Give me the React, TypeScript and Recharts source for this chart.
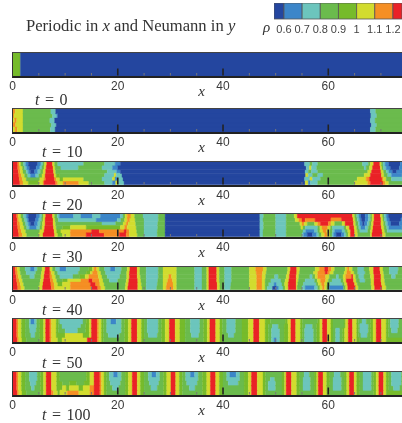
import { BarChart, Bar, XAxis, YAxis, Cell } from 'recharts';

// level index -> density band (below 0.6 up to above 1.2)
const levelColors = ['#24469f', '#3c86c9', '#6cc5bd', '#6bbb4d', '#76bb2b', '#d2dc2f', '#f58f24', '#ea2227'];
const rhoTicks = [0.6, 0.7, 0.8, 0.9, 1, 1.1, 1.2];
const rhoBands = [0.6, 0.1, 0.1, 0.1, 0.1, 0.1, 0.1, 0.1];
const xTicks = [0, 5, 10, 15, 20, 25, 30, 35, 40, 45, 50, 55, 60, 65, 70, 75];
const xLabels = [0, 20, 40, 60];

// every row, top to bottom: level, x where it ends, level, x where it ends...
const t0Rows = [[4, 1.5, 0, 76]];
const t10Rows = [
  [6, .5, 5, 2, 3, 7.3, 2, 8.2, 0, 68, 2, 69, 3, 76],
  [6, .3, 5, 2, 3, 7.6, 2, 8.4, 1, 8.6, 0, 68.1, 2, 69.2, 3, 76],
  [5, .4, 6, .8, 5, 2, 3, 7.1, 2, 8, 0, 68, 2, 68.9, 3, 76],
  [6, .6, 5, 2, 3, 7.4, 2, 8.3, 0, 68.2, 2, 69.2, 3, 76],
  [5, .5, 6, .9, 5, 2, 3, 7.2, 2, 8.1, 0, 68, 2, 69, 3, 76],
];
const t20Rows = [
  [7, 1, 6, 1.3, 5, 1.6, 3, 2.1, 2, 2.5, 1, 3, 0, 4.8, 1, 5.4, 2, 5.8, 3, 6.1, 5, 6.5, 7, 7.6, 5, 8, 3, 8.6, 2, 13.5, 3, 17.5, 2, 19.5, 1, 20.5, 0, 55.5, 2, 56.5, 3, 57, 2, 58, 3, 66.5, 2, 67.6, 3, 68, 5, 68.6, 7, 69.8, 5, 70.1, 3, 70.4, 2, 70.8, 1, 71.5, 0, 73.7, 1, 74.8, 2, 75.4, 3, 76],
  [7, 1, 6, 1.4, 5, 1.9, 3, 2.3, 2, 2.7, 1, 3.2, 0, 4.5, 1, 5.2, 2, 5.6, 3, 6, 5, 6.4, 7, 7.7, 5, 8.1, 3, 9.2, 2, 12.5, 3, 17, 2, 19, 1, 20, 0, 55.8, 2, 56.4, 5, 56.8, 2, 57.8, 3, 66.8, 2, 67.2, 3, 67.8, 5, 68.4, 7, 69.9, 5, 70.2, 3, 70.5, 2, 71, 1, 71.8, 0, 73.5, 1, 74.6, 2, 75.2, 3, 76],
  [7, 1.1, 6, 1.5, 5, 2, 3, 2.6, 2, 3, 1, 3.4, 0, 4.2, 1, 4.8, 2, 5.3, 3, 5.8, 5, 6.3, 7, 7.8, 5, 8.2, 3, 18, 2, 19.8, 1, 20.5, 0, 55.6, 2, 56.2, 3, 56.8, 2, 58, 3, 67.5, 5, 68.2, 7, 70, 5, 70.5, 3, 71, 2, 71.5, 1, 72.2, 0, 73, 1, 74.4, 2, 75, 3, 76],
  [7, 1.2, 6, 1.7, 5, 2.3, 3, 2.9, 2, 3.4, 1, 4.4, 2, 5, 3, 5.6, 5, 6.2, 7, 7.9, 5, 8.3, 4, 9, 3, 17.5, 2, 19.3, 5, 19.7, 2, 20.8, 0, 55.7, 5, 56.2, 2, 57, 3, 58, 2, 59, 3, 66.8, 5, 68, 7, 70.1, 5, 70.6, 3, 71.3, 2, 72, 1, 74, 2, 74.8, 3, 76],
  [7, 1.3, 6, 1.9, 5, 2.6, 3, 5.2, 5, 6, 6, 6.3, 7, 8, 6, 8.3, 5, 9, 4, 9.6, 5, 13.5, 3, 17, 2, 19, 5, 19.5, 1, 20, 2, 21, 0, 55.5, 2, 56.5, 5, 57, 2, 58.5, 3, 65.5, 5, 67.2, 6, 67.8, 7, 70.2, 6, 70.5, 5, 71, 3, 72, 2, 74.5, 3, 76],
  [7, 1.4, 6, 2, 5, 3, 4, 5, 5, 5.8, 6, 6, 7, 8.2, 6, 8.6, 5, 9.6, 6, 12.6, 5, 14.5, 3, 17.5, 2, 19, 1, 19.6, 5, 20, 2, 21.2, 0, 55.6, 5, 56.2, 1, 56.6, 2, 58, 3, 65, 5, 67.5, 6, 68, 7, 70.4, 6, 70.8, 5, 71.5, 3, 76],
];
const t30Rows = [
  [7, .8, 6, 1.1, 5, 1.6, 3, 2.1, 2, 2.6, 1, 3, 0, 4.6, 1, 5.2, 2, 5.6, 3, 5.9, 5, 6.3, 7, 7.6, 5, 8, 3, 8.5, 2, 8.9, 1, 11.6, 2, 13, 1, 15.2, 2, 16.7, 1, 20.5, 2, 21, 3, 21.4, 5, 21.8, 6, 22.5, 5, 23.2, 3, 24.8, 2, 27.7, 3, 29, 0, 47, 2, 47.7, 3, 50, 2, 52, 3, 53.5, 5, 54.1, 7, 64.6, 5, 65, 3, 65.4, 2, 65.8, 1, 66.2, 0, 67, 1, 67.6, 2, 68, 3, 68.3, 5, 68.7, 7, 69.9, 5, 70.3, 3, 70.6, 2, 71, 1, 71.4, 0, 74, 1, 75, 2, 75.5, 3, 76],
  [7, .9, 6, 1.2, 5, 1.8, 3, 2.3, 2, 2.8, 1, 3.1, 0, 4.4, 1, 5, 2, 5.5, 3, 5.8, 5, 6.2, 7, 7.7, 5, 8.1, 3, 8.7, 2, 15.9, 1, 19.9, 2, 20.6, 3, 21.3, 5, 21.8, 6, 22.3, 5, 23.3, 3, 25, 2, 27.7, 3, 29, 0, 47, 2, 47.6, 3, 50, 2, 52, 3, 53.7, 5, 54.4, 6, 55, 7, 55.6, 6, 57.5, 7, 60.5, 6, 62.5, 7, 64.7, 5, 65.1, 3, 65.5, 2, 65.9, 1, 66.3, 0, 67, 1, 67.6, 2, 68, 3, 68.3, 5, 68.7, 7, 70, 5, 70.4, 3, 70.7, 2, 71.1, 1, 71.6, 0, 73.8, 1, 74.8, 2, 75.4, 3, 76],
  [7, .9, 6, 1.4, 5, 2, 3, 2.5, 2, 3, 1, 3.4, 0, 4.2, 1, 4.8, 2, 5.3, 3, 5.7, 5, 6.2, 7, 7.7, 5, 8.2, 3, 17, 2, 19.6, 3, 21, 5, 21.6, 6, 22, 5, 23.4, 3, 25, 2, 27.6, 3, 29, 0, 47, 2, 47.7, 3, 50, 2, 52, 3, 54.6, 5, 55, 6, 55.4, 5, 56, 3, 57.4, 5, 58, 6, 58.5, 7, 60, 6, 60.5, 5, 61.2, 3, 62.6, 5, 63.2, 7, 64.8, 5, 65.2, 3, 65.7, 2, 66, 1, 66.5, 0, 66.9, 1, 67.4, 2, 67.8, 3, 68.2, 5, 68.6, 7, 70, 5, 70.5, 3, 70.9, 2, 71.3, 1, 71.9, 0, 73.5, 1, 74.5, 2, 75.2, 3, 76],
  [7, 1, 6, 1.5, 5, 2.2, 3, 2.7, 2, 3.2, 1, 4.6, 2, 5.2, 3, 5.6, 5, 6.1, 7, 7.8, 5, 8.3, 3, 9.5, 4, 11, 5, 14, 4, 20.5, 5, 21.3, 6, 21.8, 5, 23.5, 3, 25, 2, 27.6, 3, 29, 0, 47, 2, 47.7, 3, 50, 2, 52, 3, 54.8, 5, 55.2, 3, 55.6, 2, 58, 3, 58.4, 5, 58.8, 6, 59.9, 5, 60.4, 3, 60.8, 2, 63, 3, 63.4, 5, 64, 7, 64.9, 5, 65.4, 3, 65.8, 2, 66.2, 1, 67, 2, 67.6, 3, 68.1, 5, 68.5, 7, 70.1, 5, 70.6, 3, 71.1, 2, 71.5, 1, 74, 2, 74.9, 3, 76],
  [7, 1.1, 6, 1.7, 5, 2.5, 3, 5.2, 5, 6, 7, 7.9, 5, 8.4, 4, 9.2, 5, 11, 6, 15, 7, 16.5, 6, 21.2, 7, 21.7, 6, 22.2, 5, 23.6, 3, 25, 2, 27.5, 3, 29, 0, 47, 2, 47.6, 3, 50, 2, 52, 3, 55.2, 2, 55.7, 1, 57.4, 2, 58, 3, 58.4, 5, 59, 6, 59.7, 5, 60.3, 3, 60.8, 2, 61.2, 1, 62.6, 2, 63.2, 3, 63.7, 5, 64.2, 7, 65, 5, 65.5, 3, 66, 2, 67.5, 3, 68, 5, 68.4, 7, 70.2, 5, 70.7, 3, 71.2, 2, 74.3, 3, 76],
  [7, 1.2, 6, 1.9, 5, 2.7, 3, 5, 5, 5.8, 7, 8, 5, 8.6, 4, 9.5, 5, 11, 6, 14, 7, 17.4, 6, 20.3, 7, 21.6, 6, 22.2, 5, 23.7, 3, 25, 2, 27.5, 3, 29, 0, 47, 2, 47.6, 3, 50, 2, 52, 3, 55, 2, 55.3, 1, 56, 0, 57, 1, 57.8, 2, 58.2, 3, 58.7, 5, 59.3, 6, 59.8, 5, 60.3, 3, 60.7, 2, 61, 1, 61.5, 0, 62.5, 1, 63, 2, 63.4, 3, 63.8, 5, 64.2, 7, 65, 5, 65.6, 3, 68, 5, 68.3, 7, 70.3, 5, 70.9, 3, 76],
];
const t40Rows = [
  [7, .5, 6, .9, 5, 1.4, 3, 2.4, 2, 3.4, 1, 4.2, 2, 4.7, 3, 5.6, 5, 6.2, 7, 7.1, 5, 7.6, 3, 8.2, 2, 9, 1, 10.2, 2, 12.8, 3, 14.5, 4, 15.2, 5, 15.5, 6, 16, 5, 16.5, 3, 17.5, 2, 18.6, 1, 19.5, 2, 20.7, 3, 21.8, 5, 22.3, 7, 23.7, 5, 24.2, 3, 25.4, 2, 27.7, 3, 28.6, 5, 31.2, 3, 34.6, 2, 36, 3, 36.9, 5, 37.3, 7, 38.8, 5, 39.3, 3, 40.3, 2, 41.6, 3, 45, 5, 46.2, 6, 47.6, 5, 48.3, 3, 52.3, 5, 52.8, 7, 54, 5, 54.6, 3, 57.5, 5, 58.3, 6, 59.3, 7, 60, 6, 60.6, 5, 61.2, 3, 63.2, 5, 63.6, 6, 64, 5, 64.6, 3, 65.6, 2, 66.8, 3, 67.8, 5, 68.6, 7, 69.8, 5, 70.4, 3, 71.6, 2, 73.3, 3, 76],
  [7, .6, 6, 1, 5, 1.5, 3, 2.6, 2, 4.4, 3, 5.5, 5, 6.1, 7, 7.1, 6, 7.4, 5, 8, 3, 8.6, 2, 12.5, 3, 14, 4, 14.8, 5, 15.2, 6, 16.2, 5, 16.8, 3, 17.7, 2, 20.6, 3, 21.7, 5, 22.2, 7, 23.7, 5, 24.2, 3, 25.4, 2, 27.7, 3, 28.6, 5, 31.2, 3, 34.6, 2, 36, 3, 36.9, 5, 37.3, 7, 38.8, 5, 39.3, 3, 40.3, 2, 41.6, 3, 45, 5, 46.3, 6, 47.5, 5, 48.2, 3, 52.2, 5, 52.7, 7, 54, 5, 54.5, 3, 57.2, 5, 58, 6, 59.4, 7, 59.9, 6, 60.3, 5, 61, 3, 63, 5, 63.5, 6, 64.3, 5, 64.9, 3, 65.6, 2, 67, 3, 67.9, 5, 68.6, 7, 69.9, 5, 70.5, 3, 71.6, 2, 73.2, 3, 76],
  [7, .7, 6, 1.1, 5, 1.7, 3, 3.3, 2, 4.2, 3, 5.4, 5, 6, 7, 7.1, 6, 7.5, 5, 8.2, 3, 9, 2, 11.5, 3, 12.8, 4, 13.8, 5, 14.5, 6, 16.3, 5, 17, 3, 18, 2, 20.4, 3, 21.7, 5, 22.2, 7, 23.7, 5, 24.3, 3, 25.4, 2, 27.7, 3, 28.6, 5, 29.7, 6, 30.2, 5, 31.2, 3, 34.6, 2, 36, 3, 36.9, 5, 37.3, 7, 38.8, 5, 39.3, 3, 40.3, 2, 41.6, 3, 45, 5, 46.4, 6, 47.4, 5, 48.1, 3, 49.8, 2, 50.5, 3, 52, 5, 52.6, 7, 53.9, 5, 54.4, 3, 56.5, 2, 57, 3, 57.5, 5, 58, 6, 59.5, 5, 60.2, 3, 61.5, 2, 62, 3, 62.8, 5, 63.3, 6, 64.4, 7, 64.7, 5, 65.2, 3, 65.8, 2, 66.8, 3, 68, 5, 68.7, 7, 70, 5, 70.6, 3, 72, 2, 72.8, 3, 76],
  [7, .8, 6, 1.3, 5, 1.9, 3, 5.3, 5, 5.9, 7, 7.2, 6, 7.7, 5, 8.4, 3, 9.5, 4, 10.5, 5, 13, 6, 14.5, 7, 15.2, 6, 16.5, 5, 17.2, 3, 18.4, 2, 20, 3, 21.6, 5, 22.1, 7, 23.8, 5, 24.4, 3, 25.4, 2, 27.6, 3, 28.6, 5, 29.5, 6, 30.4, 5, 31.2, 3, 34.6, 2, 36, 3, 36.9, 5, 37.3, 7, 38.8, 5, 39.3, 3, 40.3, 2, 41.6, 3, 45, 5, 46.4, 6, 47.4, 5, 48, 3, 49.1, 2, 51, 3, 51.8, 5, 52.5, 7, 53.9, 5, 54.3, 3, 55.6, 2, 57.4, 3, 57.9, 5, 58.5, 6, 59.5, 5, 60, 3, 60.7, 2, 62.4, 3, 62.9, 5, 63.4, 7, 64.8, 5, 65.3, 3, 66, 2, 67, 3, 68.1, 5, 68.7, 7, 70, 5, 70.7, 3, 76],
  [7, .9, 6, 1.5, 5, 2.1, 3, 5.2, 5, 5.8, 7, 7.3, 6, 7.9, 5, 8.6, 4, 9.5, 5, 11, 6, 14.8, 7, 15.8, 6, 16.6, 5, 17.4, 3, 21.5, 5, 22, 7, 23.8, 5, 24.5, 3, 25.4, 2, 27.5, 3, 28.6, 5, 29.3, 6, 30.5, 5, 31.2, 3, 34.6, 2, 36, 3, 36.9, 5, 37.3, 7, 38.9, 5, 39.4, 3, 40.3, 2, 41.5, 3, 45, 5, 46.4, 6, 47.4, 5, 48, 3, 48.7, 2, 49.7, 1, 50.2, 2, 51.2, 3, 51.7, 5, 52.4, 7, 53.9, 5, 54.2, 3, 55.3, 2, 57.7, 3, 58.1, 5, 58.7, 6, 59.3, 5, 59.8, 3, 60.3, 2, 62.7, 3, 63.1, 5, 63.6, 7, 65, 5, 65.5, 3, 68.1, 5, 68.7, 7, 70.1, 5, 70.8, 3, 76],
  [7, 1, 6, 1.6, 5, 2.3, 3, 5, 5, 5.7, 7, 7.4, 6, 8, 5, 11, 6, 15, 7, 16.2, 6, 16.8, 5, 17.6, 3, 21.4, 5, 21.9, 7, 23.8, 5, 24.6, 3, 25.4, 2, 27.4, 3, 28.6, 5, 29.2, 6, 30.6, 5, 31.2, 3, 34.6, 2, 36, 3, 36.9, 5, 37.3, 7, 38.9, 5, 39.4, 3, 40.3, 2, 41.4, 3, 45, 5, 46.4, 6, 47.4, 5, 48, 3, 48.4, 2, 49.4, 0, 50.2, 1, 50.6, 2, 51.4, 3, 51.8, 5, 52.4, 7, 53.9, 5, 54.1, 3, 55, 2, 55.6, 1, 57.4, 2, 58, 3, 58.4, 5, 58.9, 6, 59.3, 5, 59.7, 3, 60.2, 1, 62.9, 3, 63.3, 5, 63.7, 7, 65.2, 5, 65.7, 3, 68.2, 5, 68.8, 7, 70.2, 5, 71, 3, 76],
];
const t50Rows = [
  [7, .8, 6, 1.1, 5, 1.7, 4, 2.4, 3, 3.2, 2, 3.5, 1, 4.2, 2, 4.6, 3, 5.2, 4, 5.9, 5, 6.3, 7, 7.1, 6, 7.4, 5, 8.3, 4, 8.7, 3, 9, 2, 13.4, 3, 14, 4, 14.6, 5, 15, 7, 16.1, 6, 16.4, 5, 16.9, 4, 17.3, 3, 17.9, 2, 18.7, 1, 19.7, 2, 20.7, 3, 21.3, 4, 22, 5, 22.6, 7, 23.7, 5, 24.5, 4, 25, 3, 25.6, 2, 27.7, 3, 28.3, 4, 29, 5, 29.8, 7, 30.9, 5, 31.8, 4, 32.8, 3, 33.8, 2, 35.6, 3, 36.3, 4, 37, 5, 37.5, 7, 38.6, 5, 39.4, 4, 39.9, 3, 40.7, 2, 42.4, 3, 43.6, 4, 44.8, 5, 45.8, 7, 46.9, 5, 48, 4, 49, 3, 51.8, 4, 52.3, 5, 52.9, 7, 53.8, 5, 54.7, 4, 55.1, 3, 58, 4, 58.4, 5, 58.9, 7, 59.8, 5, 60.5, 4, 60.9, 3, 63, 4, 63.3, 5, 63.8, 7, 64.6, 5, 65.4, 4, 65.7, 3, 66.4, 2, 67.2, 3, 68, 4, 68.5, 5, 69.1, 7, 70.1, 5, 71, 4, 71.4, 3, 71.8, 2, 73.4, 3, 74.5, 4, 76],
  [7, .8, 6, 1.1, 5, 1.7, 4, 2.4, 3, 3.2, 2, 4.6, 3, 5.2, 4, 5.9, 5, 6.3, 7, 7.1, 6, 7.4, 5, 8.3, 4, 8.7, 3, 9.4, 2, 13, 3, 13.9, 4, 14.6, 5, 15, 7, 16.1, 6, 16.4, 5, 16.9, 4, 17.3, 3, 17.9, 2, 20.7, 3, 21.3, 4, 22, 5, 22.6, 7, 23.7, 5, 24.5, 4, 25, 3, 25.6, 2, 27.7, 3, 28.3, 4, 29, 5, 29.8, 7, 30.9, 5, 31.8, 4, 32.8, 3, 33.8, 2, 35.6, 3, 36.3, 4, 37, 5, 37.5, 7, 38.6, 5, 39.4, 4, 39.9, 3, 40.7, 2, 42.4, 3, 43.6, 4, 44.8, 5, 45.8, 7, 46.9, 5, 48, 4, 48.6, 3, 49.4, 2, 50.5, 3, 51.6, 4, 52.4, 5, 52.9, 7, 53.8, 5, 54.7, 4, 55.1, 3, 55.7, 2, 57, 3, 57.8, 4, 58.4, 5, 58.9, 7, 59.8, 5, 60.5, 4, 60.9, 3, 63, 4, 63.3, 5, 63.8, 7, 64.6, 5, 65.4, 4, 65.7, 3, 66, 2, 67.6, 3, 68, 4, 68.5, 5, 69.1, 7, 70.1, 5, 71, 4, 71.4, 3, 71.8, 2, 73.4, 3, 74.5, 4, 76],
  [7, .8, 6, 1.1, 5, 1.7, 4, 2.4, 3, 3.3, 2, 4.5, 3, 5.2, 4, 5.9, 5, 6.3, 7, 7.1, 6, 7.4, 5, 8.3, 4, 8.7, 3, 10, 2, 12.4, 3, 13.9, 4, 14.6, 5, 15, 7, 16.1, 6, 16.4, 5, 16.9, 4, 17.3, 3, 17.9, 2, 20.7, 3, 21.3, 4, 22, 5, 22.6, 7, 23.7, 5, 24.5, 4, 25, 3, 25.6, 2, 27.7, 3, 28.3, 4, 29, 5, 29.8, 7, 30.9, 5, 31.8, 4, 32.8, 3, 33.8, 2, 35.6, 3, 36.3, 4, 37, 5, 37.5, 7, 38.6, 5, 39.4, 4, 39.9, 3, 40.7, 2, 42.4, 3, 43.6, 4, 44.8, 5, 45.8, 7, 46.9, 5, 48, 4, 48.6, 3, 49.2, 2, 50.8, 3, 51.6, 4, 52.4, 5, 52.9, 7, 53.8, 5, 54.7, 4, 55.1, 3, 55.5, 2, 57.2, 3, 57.8, 4, 58.4, 5, 58.9, 7, 59.8, 5, 60.5, 4, 60.9, 3, 61.4, 2, 62.2, 3, 62.7, 4, 63.1, 5, 63.8, 7, 64.6, 5, 65.4, 4, 65.7, 3, 66, 2, 67.6, 3, 68, 4, 68.5, 5, 69.1, 7, 70.1, 5, 71, 4, 71.4, 3, 72, 2, 73.2, 3, 74.5, 4, 76],
  [7, .8, 6, 1.1, 5, 1.7, 4, 2.4, 3, 3.5, 2, 4.3, 3, 5.2, 4, 5.9, 5, 6.3, 7, 7.1, 6, 7.4, 5, 8.3, 4, 10, 5, 13.4, 4, 14.6, 5, 15, 7, 16.1, 6, 16.4, 5, 16.9, 4, 17.3, 3, 18.2, 2, 20.3, 3, 21.3, 4, 22, 5, 22.6, 7, 23.7, 5, 24.5, 4, 25, 3, 25.8, 2, 27.5, 3, 28.3, 4, 29, 5, 29.8, 7, 30.9, 5, 31.8, 4, 32.8, 3, 34, 2, 35.4, 3, 36.3, 4, 37, 5, 37.5, 7, 38.6, 5, 39.4, 4, 39.9, 3, 41, 2, 42.1, 3, 43.6, 4, 44.8, 5, 45.8, 7, 46.9, 5, 48, 4, 48.6, 3, 49.2, 2, 50.8, 3, 51.6, 4, 52.4, 5, 52.9, 7, 53.8, 5, 54.7, 4, 55.1, 3, 55.5, 2, 57.2, 3, 57.8, 4, 58.4, 5, 58.9, 7, 59.8, 5, 60.5, 4, 60.9, 3, 61.4, 2, 62.2, 3, 62.7, 4, 63.1, 5, 63.8, 7, 64.6, 5, 65.4, 4, 65.7, 3, 66.2, 2, 67.4, 3, 68, 4, 68.5, 5, 69.1, 7, 70.1, 5, 71, 4, 71.4, 3, 76],
  [7, .9, 6, 1.2, 5, 1.8, 4, 2.6, 3, 5.2, 4, 5.9, 5, 6.3, 7, 7.1, 6, 7.4, 5, 8.6, 4, 9.4, 5, 14.2, 7, 16.1, 6, 16.4, 5, 16.9, 4, 17.3, 3, 21.3, 4, 22, 5, 22.6, 7, 23.7, 5, 24.5, 4, 25, 3, 28.3, 4, 29, 5, 29.8, 7, 30.9, 5, 31.8, 4, 32.8, 3, 36.3, 4, 37, 5, 37.5, 7, 38.6, 5, 39.4, 4, 39.9, 3, 43.6, 4, 44.8, 5, 45.8, 7, 46.9, 5, 48, 4, 48.6, 3, 49.2, 2, 49.7, 1, 50.2, 2, 50.8, 3, 51.6, 4, 52.4, 5, 52.9, 7, 53.8, 5, 54.7, 4, 55.1, 3, 55.5, 2, 57.2, 3, 57.8, 4, 58.4, 5, 58.9, 7, 59.8, 5, 60.5, 4, 60.9, 3, 61.4, 2, 62.2, 3, 62.7, 4, 63.1, 5, 63.8, 7, 64.6, 5, 65.4, 4, 66, 3, 68, 4, 68.5, 5, 69.1, 7, 70.1, 5, 71, 4, 76],
];
const t100Rows = [
  [7, .8, 6, 1.1, 5, 1.7, 4, 2.4, 3, 3.2, 2, 4.7, 3, 5.3, 4, 5.9, 5, 6.4, 7, 7.4, 5, 8.4, 4, 9, 3, 14, 4, 14.7, 5, 15.5, 7, 16.6, 6, 16.9, 5, 17.4, 4, 17.9, 3, 18.4, 2, 19.2, 1, 20, 2, 20.7, 3, 21.4, 4, 22, 5, 22.75, 7, 23.7, 5, 24.3, 4, 25, 3, 25.8, 2, 26.5, 1, 27.3, 2, 28, 3, 28.7, 4, 29.3, 5, 30.1, 7, 31, 5, 31.7, 4, 32.3, 3, 32.9, 2, 33.8, 1, 34.6, 2, 35.3, 3, 36.1, 4, 36.9, 5, 37.6, 7, 38.6, 5, 39.3, 4, 40, 3, 40.7, 2, 41.3, 1, 42.5, 2, 43.2, 3, 44, 4, 44.8, 5, 45.4, 7, 46.5, 5, 47.6, 4, 48.1, 3, 51.2, 4, 51.7, 5, 52, 7, 53, 5, 54, 4, 54.6, 3, 55.4, 2, 56.4, 3, 57.3, 4, 57.8, 5, 58.1, 7, 59, 5, 59.7, 4, 60.3, 3, 61.1, 2, 62.3, 3, 63, 4, 63.5, 5, 64, 7, 64.9, 5, 65.4, 4, 66, 3, 66.6, 2, 68.2, 3, 68.6, 4, 69.1, 5, 69.6, 7, 70.5, 5, 71, 4, 71.5, 3, 72, 2, 73.9, 3, 76],
  [7, .8, 6, 1.1, 5, 1.7, 4, 2.4, 3, 3.2, 2, 4.7, 3, 5.3, 4, 5.9, 5, 6.4, 7, 7.4, 5, 8.4, 4, 9, 3, 14, 4, 14.7, 5, 15.5, 7, 16.6, 6, 16.9, 5, 17.4, 4, 17.9, 3, 18.4, 2, 20.7, 3, 21.4, 4, 22, 5, 22.75, 7, 23.7, 5, 24.3, 4, 25, 3, 25.8, 2, 28, 3, 28.7, 4, 29.3, 5, 30.1, 7, 31, 5, 31.7, 4, 32.3, 3, 32.9, 2, 35.3, 3, 36.1, 4, 36.9, 5, 37.6, 7, 38.6, 5, 39.3, 4, 40, 3, 40.7, 2, 43.2, 3, 44, 4, 44.8, 5, 45.4, 7, 46.5, 5, 47.6, 4, 48.1, 3, 49, 2, 49.8, 3, 51.2, 4, 51.7, 5, 52, 7, 53, 5, 54, 4, 54.6, 3, 55.2, 2, 56.6, 3, 57.3, 4, 57.8, 5, 58.1, 7, 59, 5, 59.7, 4, 60.3, 3, 60.9, 2, 62.5, 3, 63, 4, 63.5, 5, 64, 7, 64.9, 5, 65.4, 4, 66, 3, 66.6, 2, 68.2, 3, 68.6, 4, 69.1, 5, 69.6, 7, 70.5, 5, 71, 4, 71.5, 3, 72, 2, 73.9, 3, 76],
  [7, .8, 6, 1.1, 5, 1.7, 4, 2.4, 3, 3.4, 2, 4.5, 3, 5.3, 4, 5.9, 5, 6.4, 7, 7.4, 5, 8.4, 4, 9.5, 3, 10.8, 4, 12.2, 3, 13.6, 4, 14.7, 5, 15.5, 7, 16.6, 6, 16.9, 5, 17.4, 4, 17.9, 3, 18.6, 2, 20.5, 3, 21.4, 4, 22, 5, 22.75, 7, 23.7, 5, 24.3, 4, 25, 3, 26, 2, 27.8, 3, 28.7, 4, 29.3, 5, 30.1, 7, 31, 5, 31.7, 4, 32.3, 3, 33.1, 2, 35.1, 3, 36.1, 4, 36.9, 5, 37.6, 7, 38.6, 5, 39.3, 4, 40, 3, 41, 2, 42.9, 3, 44, 4, 44.8, 5, 45.4, 7, 46.5, 5, 47.6, 4, 48.1, 3, 48.6, 2, 50, 3, 51.2, 4, 51.7, 5, 52, 7, 53, 5, 54, 4, 54.6, 3, 55.2, 2, 56.6, 3, 57.3, 4, 57.8, 5, 58.1, 7, 59, 5, 59.7, 4, 60.3, 3, 60.9, 2, 62.5, 3, 63, 4, 63.5, 5, 64, 7, 64.9, 5, 65.4, 4, 66, 3, 66.6, 2, 68.2, 3, 68.6, 4, 69.1, 5, 69.6, 7, 70.5, 5, 71, 4, 71.5, 3, 72, 2, 73.9, 3, 76],
  [7, .8, 6, 1.1, 5, 1.7, 4, 2.4, 3, 3.6, 2, 4.2, 3, 5.3, 4, 5.9, 5, 6.4, 7, 7.4, 5, 8.4, 4, 9.5, 5, 10.2, 4, 10.8, 5, 12.6, 4, 13.4, 5, 14.7, 6, 15.5, 7, 16.6, 6, 16.9, 5, 17.4, 4, 17.9, 3, 19, 2, 20.2, 3, 21.4, 4, 22, 5, 22.75, 7, 23.7, 5, 24.3, 4, 25, 3, 26.3, 2, 27.5, 3, 28.7, 4, 29.3, 5, 30.1, 7, 31, 5, 31.7, 4, 32.3, 3, 33.6, 2, 34.7, 3, 36.1, 4, 36.9, 5, 37.6, 7, 38.6, 5, 39.3, 4, 40, 3, 44, 4, 44.8, 5, 45.4, 7, 46.5, 5, 47.6, 4, 48.1, 3, 48.6, 2, 50, 3, 51.2, 4, 51.7, 5, 52, 7, 53, 5, 54, 4, 54.6, 3, 55.2, 2, 56.6, 3, 57.3, 4, 57.8, 5, 58.1, 7, 59, 5, 59.7, 4, 60.3, 3, 60.9, 2, 62.5, 3, 63, 4, 63.5, 5, 64, 7, 64.9, 5, 65.4, 4, 66, 3, 66.6, 2, 68.2, 3, 68.6, 4, 69.1, 5, 69.6, 7, 70.5, 5, 71, 4, 71.5, 3, 72.4, 2, 73.6, 3, 76],
  [7, .9, 6, 1.2, 5, 1.8, 4, 2.6, 3, 5.3, 4, 5.9, 5, 6.4, 7, 7.4, 6, 7.8, 5, 8.6, 4, 9, 5, 10.4, 6, 12.6, 5, 14.7, 6, 15.5, 7, 16.6, 6, 16.9, 5, 17.4, 4, 17.9, 3, 21.4, 4, 22, 5, 22.75, 7, 23.7, 5, 24.3, 4, 25, 3, 28.7, 4, 29.3, 5, 30.1, 7, 31, 5, 31.7, 4, 32.3, 3, 36.1, 4, 36.9, 5, 37.6, 7, 38.6, 5, 39.3, 4, 40, 3, 44, 4, 44.8, 5, 45.4, 7, 46.5, 5, 47.6, 4, 48.1, 3, 51.2, 4, 51.7, 5, 52, 7, 53, 5, 54, 4, 54.6, 3, 57.3, 4, 57.8, 5, 58.1, 7, 59, 5, 59.7, 4, 60.3, 3, 63, 4, 63.5, 5, 64, 7, 64.9, 5, 65.4, 4, 66, 3, 68.6, 4, 69.1, 5, 69.6, 7, 70.5, 5, 71, 4, 76],
];

const sansFont = '"Liberation Sans", Arial, sans-serif';
const serifFont = '"Liberation Serif", "Times New Roman", serif';
const plotHeight = 22.5;

function renderTick({ x, y, payload }: any) {
  const value = payload.value;
  const major = value % 20 === 0;
  return (
    <g>
      {major && value > 0 ? (
        <line x1={x} x2={x} y1={y} y2={y - 7} stroke="#222" strokeWidth={1.6} />
      ) : (
        <line x1={x} x2={x} y1={y} y2={y - 2.5} stroke="#777" strokeWidth={1} />
      )}
      {xLabels.includes(value) && (
        <text x={x} y={y + 14} textAnchor="middle" fontSize={12} fontFamily={sansFont} fill="#3a3a3a">
          {value}
        </text>
      )}
    </g>
  );
}

function HeatStrip({ rows, top, label, labelLeft, labelDy }: any) {
  const table = rows.map((row: number[], i: number) => {
    const d: any = { row: i };
    let prev = 0;
    for (let k = 0; k < row.length; k += 2) {
      d[`s${k / 2}`] = row[k + 1] - prev;
      prev = row[k + 1];
    }
    return d;
  });
  const segments = Math.max(...rows.map((r: number[]) => r.length / 2));
  const keys = Array.from({ length: segments }, (_, j) => j);

  return (
    <div style={{ position: 'absolute', left: 0, top, width: 418, height: 62 }}>
      <BarChart
        width={418}
        height={plotHeight + 40}
        data={table}
        layout="vertical"
        barCategoryGap={0}
        margin={{ top: 0, right: 5.5, bottom: 0, left: 12.5 }}
      >
        <YAxis type="category" dataKey="row" hide />
        {keys.map((j) => (
          <Bar key={j} dataKey={`s${j}`} stackId="a" isAnimationActive={false}>
            {rows.map((row: number[], i: number) => {
              const c = levelColors[row[j * 2]];
              return <Cell key={i} fill={c || 'none'} stroke={c || 'none'} strokeWidth={0.35} />;
            })}
          </Bar>
        ))}
        <XAxis
          type="number"
          domain={[0, 76]}
          ticks={xTicks}
          interval={0}
          height={40}
          tickSize={0}
          tickMargin={0}
          axisLine={false}
          tickLine={false}
          tick={renderTick}
          label={{
            value: 'x',
            position: 'insideTop',
            dx: -11,
            dy: 5,
            style: { fontFamily: serifFont, fontStyle: 'italic', fontSize: 15, fill: '#333' },
          }}
        />
      </BarChart>
      <div
        style={{
          position: 'absolute',
          left: 12,
          top: -1,
          width: 420,
          height: plotHeight,
          borderTop: '1.5px solid #444',
          borderLeft: '1.5px solid #333',
          borderBottom: '2px solid #222',
          boxSizing: 'content-box',
        }}
      />
      <div
        style={{
          position: 'absolute',
          left: labelLeft,
          top: plotHeight + labelDy,
          fontFamily: serifFont,
          fontSize: 16,
          wordSpacing: 1.5,
          color: '#333',
          whiteSpace: 'nowrap',
          lineHeight: '16px',
        }}
      >
        <i>t</i> = {label}
      </div>
    </div>
  );
}

function RhoLegend() {
  const row: any = { row: 0 };
  rhoBands.forEach((w, i) => {
    row[`b${i}`] = w;
  });
  return (
    <div style={{ position: 'absolute', left: 274, top: 3 }}>
      <BarChart
        width={128}
        height={36}
        data={[row]}
        layout="vertical"
        barCategoryGap={0}
        margin={{ top: 0, right: 0, bottom: 0, left: 0 }}
      >
        <YAxis type="category" dataKey="row" hide />
        <XAxis
          type="number"
          domain={[0.545, 1.25]}
          allowDataOverflow
          ticks={rhoTicks}
          interval={0}
          height={20}
          axisLine={false}
          tickLine={false}
          tickMargin={0}
          tick={{ fontSize: 11, fill: '#444', fontFamily: sansFont }}
          tickFormatter={(v: number) => String(v)}
        />
        {rhoBands.map((_, i) => (
          <Bar key={i} dataKey={`b${i}`} stackId="a" fill={levelColors[i]} stroke="#555" strokeWidth={0.8} isAnimationActive={false} />
        ))}
      </BarChart>
    </div>
  );
}

export default function App() {
  return (
    <div
      style={{
        position: 'absolute',
        left: 0,
        top: 0,
        width: 402,
        height: 423,
        overflow: 'hidden',
        background: '#fff',
        filter: 'blur(0.6px)',
      }}
    >
      <div
        style={{
          position: 'absolute',
          left: 26,
          top: 17,
          fontFamily: serifFont,
          fontSize: 16.6,
          lineHeight: '18px',
          color: '#333',
          whiteSpace: 'nowrap',
        }}
      >
        Periodic in <i>x</i> and Neumann in <i>y</i>
      </div>
      <div
        style={{
          position: 'absolute',
          left: 263,
          top: 19,
          fontFamily: serifFont,
          fontStyle: 'italic',
          fontSize: 15,
          color: '#333',
        }}
      >
        ρ
      </div>
      <RhoLegend />
      <HeatStrip rows={t0Rows} top={53} label="0" labelLeft={35} labelDy={16} />
      <HeatStrip rows={t10Rows} top={109} label="10" labelLeft={42} labelDy={12} />
      <HeatStrip rows={t20Rows} top={162} label="20" labelLeft={42} labelDy={12} />
      <HeatStrip rows={t30Rows} top={214} label="30" labelLeft={42} labelDy={12} />
      <HeatStrip rows={t40Rows} top={267} label="40" labelLeft={42} labelDy={12} />
      <HeatStrip rows={t50Rows} top={319} label="50" labelLeft={42} labelDy={13} />
      <HeatStrip rows={t100Rows} top={372} label="100" labelLeft={42} labelDy={12} />
    </div>
  );
}
